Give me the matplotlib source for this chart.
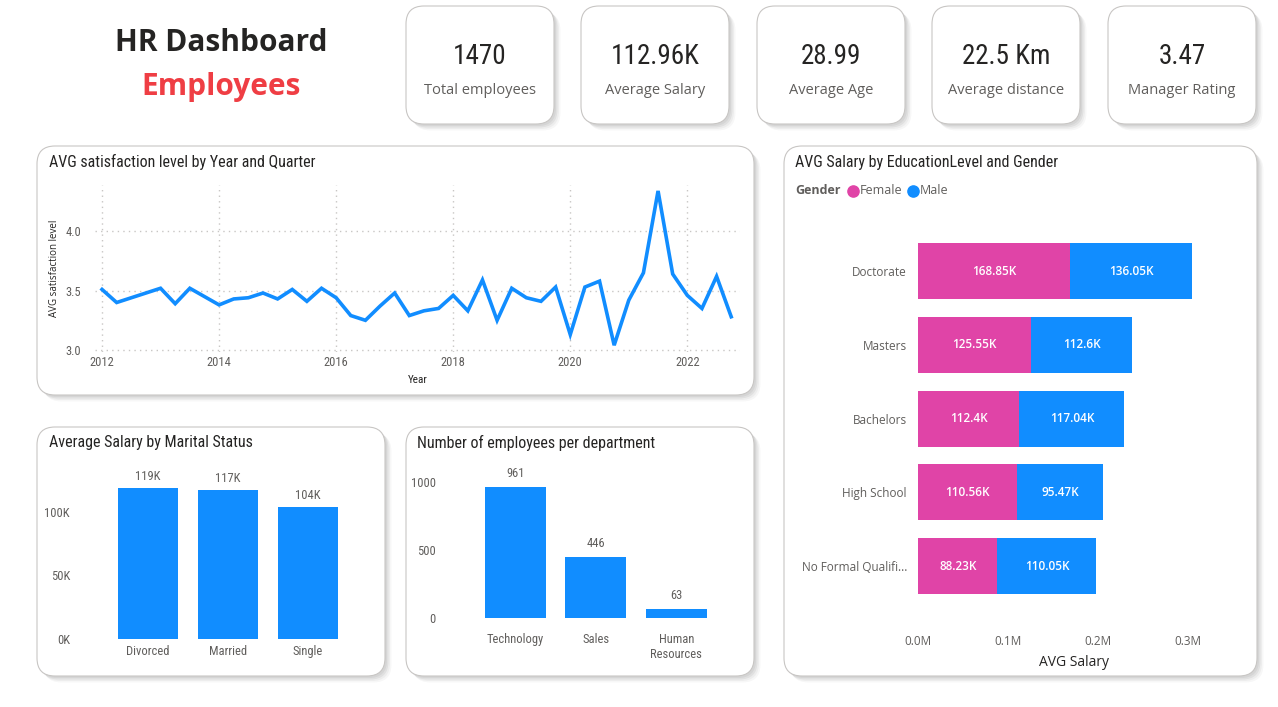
import matplotlib
matplotlib.use("Agg")
import matplotlib.pyplot as plt
from matplotlib.patches import FancyBboxPatch
from matplotlib import font_manager

# ---------------- data ----------------
kpi_values = ["1470", "112.96K", "28.99", "22.5 Km", "3.47"]
kpi_labels = ["Total employees", "Average Salary", "Average Age", "Average distance", "Manager Rating"]

years = [2012 + q / 4 for q in range(44)]
satisfaction = [3.51, 3.40, 3.44, 3.48, 3.52, 3.39, 3.52, 3.45,
                3.38, 3.43, 3.44, 3.48, 3.43, 3.51, 3.41, 3.52,
                3.44, 3.29, 3.25, 3.37, 3.48, 3.29, 3.33, 3.35,
                3.46, 3.33, 3.59, 3.25, 3.52, 3.44, 3.41, 3.53,
                3.13, 3.53, 3.58, 3.04, 3.42, 3.65, 4.34, 3.64,
                3.46, 3.35, 3.62, 3.28]

marital_status = ["Divorced", "Married", "Single"]
marital_salary = [119, 117, 104]  # K

departments = ["Technology", "Sales", "Human\nResources"]
dept_counts = [961, 446, 63]

education = ["Doctorate", "Masters", "Bachelors", "High School", "No Formal Qualifi..."]
female_salary = [168.85, 125.55, 112.4, 110.56, 88.23]  # K
male_salary = [136.05, 112.6, 117.04, 95.47, 110.05]  # K

# ---------------- style ----------------
BLUE = "#118DFF"
PINK = "#E044A7"
DARK = "#252423"
GRAY = "#605E5C"
RED = "#EF3E44"

avail = {f.name for f in font_manager.fontManager.ttflist}
def pick(*names):
    for n in names:
        if n in avail:
            return n
    return "DejaVu Sans"

NARROW = pick("Liberation Sans Narrow", "Roboto Condensed", "Open Sans", "Roboto")
SANS = pick("Open Sans", "Noto Sans", "Lato")
BOLD = pick("Open Sans", "Noto Sans", "Lato")

W, H = 1278, 707
fig = plt.figure(figsize=(W / 100, H / 100), dpi=100)
fig.patch.set_facecolor("white")

bg = fig.add_axes([0, 0, 1, 1])
bg.set_xlim(0, W)
bg.set_ylim(H, 0)
bg.axis("off")


def card(x0, y0, x1, y1, r=18):
    for i, a in enumerate([0.05, 0.05, 0.04, 0.03]):
        off = 2 + i * 1.5
        bg.add_patch(FancyBboxPatch((x0 + off, y0 + off), x1 - x0, y1 - y0,
                                    boxstyle=f"round,pad=0,rounding_size={r}",
                                    fc="black", ec="none", alpha=a, zorder=1))
    bg.add_patch(FancyBboxPatch((x0, y0), x1 - x0, y1 - y0,
                                boxstyle=f"round,pad=0,rounding_size={r}",
                                fc="white", ec="#C8C6C4", lw=0.8, zorder=2))


def ax_rect(x0, y0, x1, y1):
    return [x0 / W, 1 - y1 / H, (x1 - x0) / W, (y1 - y0) / H]

# ---------------- header ----------------
bg.text(221, 43, "HR Dashboard", ha="center", va="center", fontsize=21.5,
        fontweight="bold", color=DARK, family=BOLD, zorder=3)
bg.text(221, 87, "Employees", ha="center", va="center", fontsize=21.5,
        fontweight="bold", color=RED, family=BOLD, zorder=3)

card_x = [406, 581, 757, 932, 1108]
for x0, v, lab in zip(card_x, kpi_values, kpi_labels):
    card(x0, 6, x0 + 148, 124)
    bg.text(x0 + 74, 57, v, ha="center", va="center", fontsize=19.5, color=DARK,
            family=NARROW, zorder=3)
    bg.text(x0 + 74, 91, lab, ha="center", va="center", fontsize=10.5, color=GRAY,
            family=SANS, zorder=3)

# ---------------- panels ----------------
card(37, 146, 754, 395)
card(37, 427, 385, 676)
card(406, 427, 754, 676)
card(784, 146, 1257, 676)

title_kw = dict(ha="left", va="center", fontsize=11.5, color=DARK, family=NARROW, zorder=3)
bg.text(49, 162, "AVG satisfaction level by Year and Quarter", **title_kw)
bg.text(49, 443, "Average Salary by Marital Status", **title_kw)
bg.text(417, 443, "Number of employees per department", **title_kw)
bg.text(795, 162, "AVG Salary by EducationLevel and Gender", **title_kw)

# ---------------- line chart ----------------
ax1 = fig.add_axes(ax_rect(95, 185, 740, 352))
ax1.set_facecolor("none")
ax1.plot(years, satisfaction, color=BLUE, lw=2.6, solid_joinstyle="miter")
ax1.set_xlim(2011.88, 2022.9)
ax1.set_ylim(2.983, 4.39)
ax1.set_xticks([2012, 2014, 2016, 2018, 2020, 2022])
ax1.set_yticks([3.0, 3.5, 4.0])
ax1.set_yticklabels(["3.0", "3.5", "4.0"])
ax1.grid(True, color="#C8C6C4", ls=(0, (1, 3)), lw=1)
for s in ax1.spines.values():
    s.set_visible(False)
ax1.tick_params(length=0, labelsize=9, labelcolor=GRAY, pad=3)
ax1.tick_params(axis="y", pad=10)
for t in ax1.get_xticklabels() + ax1.get_yticklabels():
    t.set_family(NARROW)
ax1.set_xlabel("Year", fontsize=8, color=DARK, family=NARROW, labelpad=4)
ax1.set_ylabel("AVG satisfaction level", fontsize=7, color=DARK, family=SANS, labelpad=4)

# ---------------- marital chart ----------------
ax2 = fig.add_axes(ax_rect(88, 465, 368, 639))
ax2.set_facecolor("none")
xs = range(len(marital_status))
ax2.bar(xs, marital_salary, width=0.75, color=BLUE)
for x, v in zip(xs, marital_salary):
    ax2.text(x, v + 4, f"{v}K", ha="center", va="bottom", fontsize=9, color=GRAY, family=NARROW)
ax2.set_xlim(-0.75, 2.75)
ax2.set_ylim(0, 137)
ax2.set_yticks([0, 50, 100])
ax2.set_yticklabels(["0K", "50K", "100K"])
ax2.set_xticks(list(xs))
ax2.set_xticklabels(marital_status)
for s in ax2.spines.values():
    s.set_visible(False)
ax2.tick_params(length=0, labelsize=9, labelcolor=GRAY)
ax2.tick_params(axis="y", pad=13)
ax2.tick_params(axis="x", pad=4)
for t in ax2.get_xticklabels() + ax2.get_yticklabels():
    t.set_family(NARROW)

# ---------------- department chart ----------------
ax3 = fig.add_axes(ax_rect(455, 465, 736, 618))
ax3.set_facecolor("none")
xs = range(len(departments))
ax3.bar(xs, dept_counts, width=0.76, color=BLUE)
for x, v in zip(xs, dept_counts):
    ax3.text(x, v + 55, f"{v}", ha="center", va="bottom", fontsize=9, color=GRAY, family=NARROW)
ax3.set_xlim(-0.75, 2.74)
ax3.set_ylim(0, 1125)
ax3.set_yticks([0, 500, 1000])
ax3.set_xticks(list(xs))
ax3.set_xticklabels(departments, linespacing=1.2, va="top")
for s in ax3.spines.values():
    s.set_visible(False)
ax3.tick_params(length=0, labelsize=9, labelcolor=GRAY)
ax3.tick_params(axis="y", pad=14)
ax3.tick_params(axis="x", pad=11)
for t in ax3.get_xticklabels() + ax3.get_yticklabels():
    t.set_family(NARROW)

# ---------------- education chart ----------------
ax4 = fig.add_axes(ax_rect(918, 215, 1230, 620))
ax4.set_facecolor("none")
ys = list(range(len(education)))
f_m = [v / 1000 for v in female_salary]
m_m = [v / 1000 for v in male_salary]
ax4.barh(ys, f_m, height=0.76, color=PINK)
ax4.barh(ys, m_m, left=f_m, height=0.76, color=BLUE)
for y, f, m, fl, ml in zip(ys, f_m, m_m, female_salary, male_salary):
    ax4.text(f / 2, y, f"{fl:g}K", ha="center", va="center", fontsize=8.5, color="white",
             family=SANS, fontweight="semibold")
    ax4.text(f + m / 2, y, f"{ml:g}K", ha="center", va="center", fontsize=8.5, color="white",
             family=SANS, fontweight="semibold")
ax4.set_ylim(4.73, -0.76)
ax4.set_xlim(0, 0.3467)
ax4.set_yticks(ys)
ax4.set_yticklabels(education)
ax4.set_xticks([0, 0.1, 0.2, 0.3])
ax4.set_xticklabels(["0.0M", "0.1M", "0.2M", "0.3M"])
for s in ax4.spines.values():
    s.set_visible(False)
ax4.tick_params(length=0, labelsize=8.5, labelcolor=GRAY)
ax4.tick_params(axis="x", pad=11)
ax4.tick_params(axis="y", pad=8)
for t in ax4.get_xticklabels() + ax4.get_yticklabels():
    t.set_family(SANS)
ax4.set_xlabel("AVG Salary", fontsize=10, color=DARK, family=SANS, labelpad=5)

# legend
bg.text(795, 191, "Gender", ha="left", va="center", fontsize=9, fontweight="bold",
        color=GRAY, family=SANS, zorder=3)
bg.scatter([853], [191], s=65, color=PINK, zorder=3)
bg.text(860, 191, "Female", ha="left", va="center", fontsize=9, color=GRAY, family=SANS, zorder=3)
bg.scatter([913], [191], s=65, color=BLUE, zorder=3)
bg.text(920, 191, "Male", ha="left", va="center", fontsize=9, color=GRAY, family=SANS, zorder=3)

fig.savefig("out.png", dpi=100, facecolor="white")
